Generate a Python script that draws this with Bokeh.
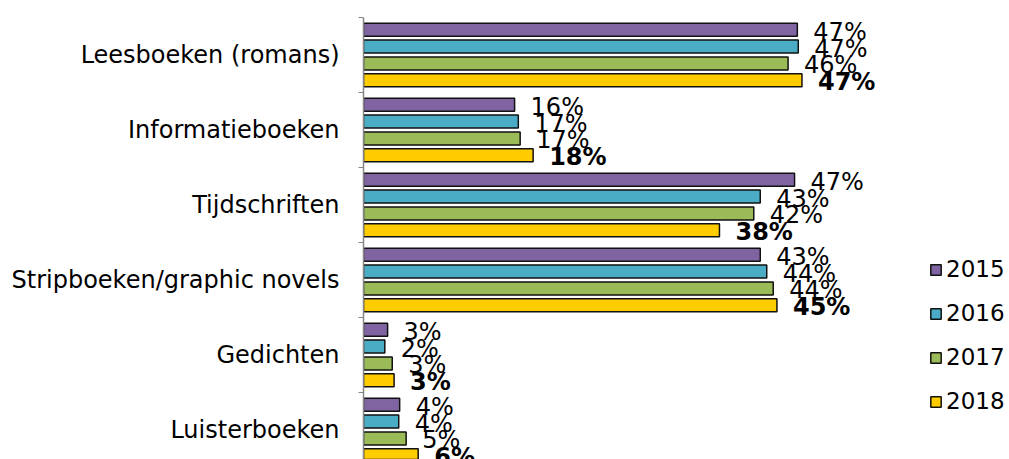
from bokeh.plotting import figure
from bokeh.models import Range1d, FixedTicker, Legend, LegendItem
from bokeh.core.properties import value
from bokeh.embed import file_html
from bokeh.resources import INLINE

categories = ["Leesboeken (romans)", "Informatieboeken", "Tijdschriften",
              "Stripboeken/graphic novels", "Gedichten", "Luisterboeken"]
years = ["2015", "2016", "2017", "2018"]
v2015 = [46.8, 16.3, 46.5, 42.8, 2.6, 3.9]
v2016 = [46.9, 16.7, 42.8, 43.5, 2.3, 3.8]
v2017 = [45.8, 16.9, 42.1, 44.2, 3.1, 4.6]
v2018 = [47.3, 18.3, 38.4, 44.6, 3.3, 5.9]
series = [v2015, v2016, v2017, v2018]
colors = ["#8064A2", "#4BACC6", "#9BBB59", "#FFCC00"]

FONT = "DejaVu Sans"
PX_PER_UNIT = 75.0
W, H = 1009, 459
LEFT, TOP = 363, 17
frame_h = H - TOP
frame_w = W - LEFT

p = figure(width=W, height=H, output_backend="svg", toolbar_location=None,
           x_range=Range1d(0, frame_w / 9.27),
           y_range=Range1d(-0.5 + frame_h / PX_PER_UNIT, -0.5),
           min_border_left=LEFT, min_border_top=TOP, min_border_right=0,
           min_border_bottom=0)
p.outline_line_color = None
p.grid.visible = False
p.xaxis.visible = False

pitch = 16.8 / PX_PER_UNIT
bar_h = 13.0 / PX_PER_UNIT
renderers = []
for k, (vals, col) in enumerate(zip(series, colors)):
    ys = [i + (k - 1.5) * pitch for i in range(len(categories))]
    r = p.hbar(y=ys, right=vals, left=0, height=bar_h, fill_color=col,
               line_color="#111111", line_width=1.5)
    renderers.append(r)
    labels = [f"{int(v + 0.5)}%" for v in vals]
    p.text(x=vals, y=ys, text=labels, x_offset=16, y_offset=2,
           text_baseline="middle", text_align="left",
           text_font=value(FONT), text_font_size="24px",
           text_font_style="bold" if k == 3 else "normal",
           text_color="#000000")

ax = p.yaxis[0]
ax.ticker = FixedTicker(ticks=list(range(len(categories))),
                        minor_ticks=[i - 0.5 for i in range(len(categories) + 1)])
ax.major_label_overrides = {i: c for i, c in enumerate(categories)}
ax.major_tick_out = 0
ax.major_tick_in = 0
ax.minor_tick_out = 5
ax.minor_tick_in = 0
ax.minor_tick_line_color = "#868686"
ax.axis_line_color = "#868686"
ax.axis_line_width = 1.5
ax.major_label_text_font = FONT
ax.major_label_text_font_size = "24px"
ax.major_label_text_color = "#000000"
ax.major_label_standoff = 19

legend = Legend(items=[LegendItem(label=y, renderers=[r]) for y, r in zip(years, renderers)],
                location=(566, 45))
legend.background_fill_alpha = 0
legend.border_line_alpha = 0
legend.glyph_width = 13
legend.glyph_height = 13
legend.label_standoff = 4
legend.padding = 0
legend.margin = 0
legend.spacing = 18
legend.label_text_font = FONT
legend.label_text_font_size = "23px"
legend.label_text_color = "#000000"
p.add_layout(legend)

open("out.html", "w").write(file_html(p, INLINE))
